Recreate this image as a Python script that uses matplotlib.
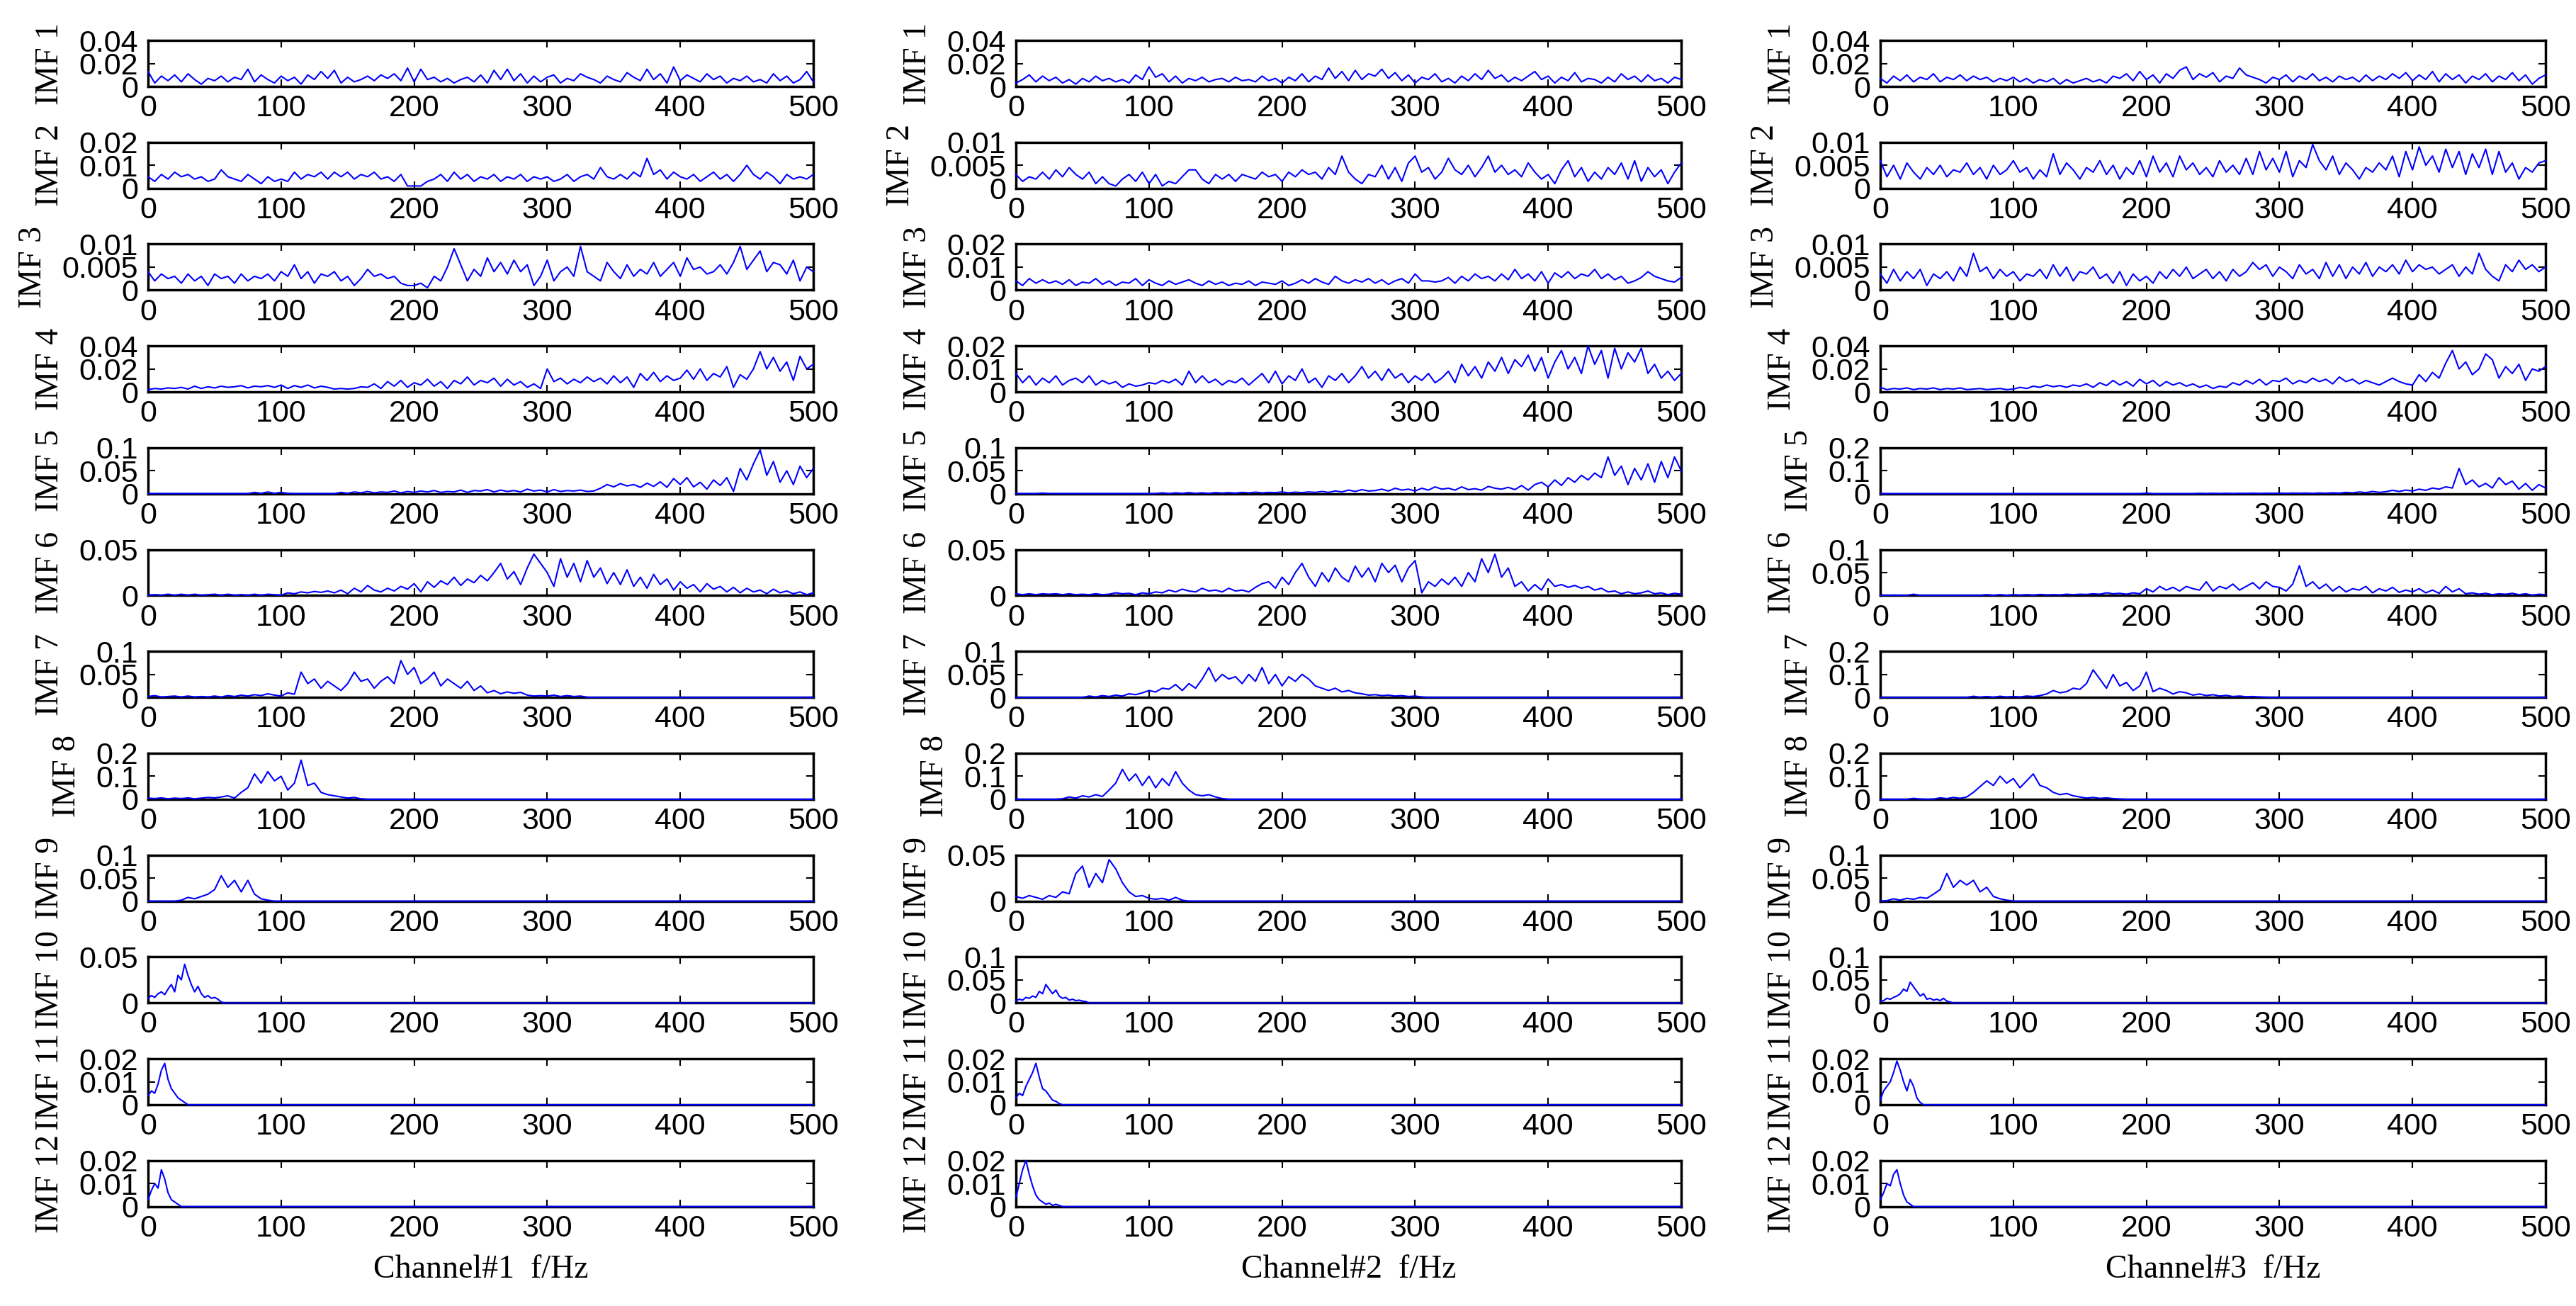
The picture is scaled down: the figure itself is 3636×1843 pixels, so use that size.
import matplotlib
matplotlib.use('Agg')
import matplotlib.pyplot as plt
import numpy as np

# MATLAB-like look: sans ticks, serif labels
plt.rcParams['font.family'] = ['Liberation Sans Narrow', 'Liberation Sans', 'DejaVu Sans']

# ============ data (amplitude in units of 1e-4) ============
# rows 1-9 sampled every 5 Hz, rows 10-12 every 2.5 Hz;
# past the end of a list the trace sits on zero up to 500 Hz

# ---- Channel #1 ----
c1_imf1 = [130, 30, 90, 50, 100, 40, 110, 60, 20, 70,
           50, 90, 40, 80, 60, 150, 40, 100, 60, 30,
           90, 50, 80, 20, 100, 60, 130, 70, 140, 30,
           80, 40, 60, 90, 50, 100, 70, 110, 50, 160,
           40, 150, 60, 80, 40, 70, 30, 60, 80, 40,
           100, 30, 140, 60, 150, 50, 110, 30, 90, 40,
           80, 100, 30, 70, 50, 110, 80, 60, 30, 90,
           60, 40, 120, 80, 50, 150, 60, 110, 30, 170,
           50, 100, 70, 40, 110, 60, 90, 30, 70, 50,
           90, 40, 60, 30, 110, 50, 90, 30, 60, 130,
           40]
c1_imf2 = [50, 30, 60, 40, 70, 50, 60, 40, 50, 30,
           40, 80, 50, 40, 30, 60, 40, 20, 50, 30,
           40, 30, 70, 40, 60, 50, 70, 40, 70, 50,
           70, 40, 60, 50, 70, 40, 50, 30, 60, 10,
           10, 10, 30, 40, 60, 30, 70, 40, 60, 30,
           50, 40, 60, 30, 50, 40, 60, 30, 50, 40,
           50, 30, 40, 60, 30, 50, 60, 40, 90, 50,
           40, 60, 40, 70, 50, 130, 60, 80, 40, 70,
           50, 40, 60, 30, 50, 70, 40, 60, 30, 60,
           100, 60, 40, 70, 50, 20, 60, 40, 50, 40,
           60]
c1_imf3 = [40, 20, 35, 25, 30, 15, 35, 20, 30, 10,
           35, 25, 30, 15, 35, 20, 30, 25, 35, 20,
           40, 30, 55, 25, 40, 15, 35, 30, 40, 20,
           30, 10, 25, 45, 30, 35, 25, 30, 15, 10,
           10, 15, 5, 30, 20, 50, 90, 55, 20, 45,
           30, 70, 40, 60, 35, 65, 40, 55, 10, 30,
           65, 20, 40, 50, 30, 95, 40, 30, 20, 60,
           40, 25, 55, 30, 45, 35, 60, 30, 45, 60,
           30, 70, 45, 50, 35, 40, 55, 35, 60, 95,
           45, 65, 85, 40, 60, 55, 35, 65, 20, 50,
           40]
c1_imf4 = [20, 30, 25, 35, 30, 40, 25, 50, 30, 45,
           35, 50, 40, 45, 55, 35, 50, 45, 55, 40,
           60, 30, 55, 40, 60, 35, 50, 40, 25, 30,
           25, 30, 45, 40, 70, 30, 90, 50, 100, 40,
           80, 60, 110, 50, 90, 30, 100, 70, 130, 60,
           100, 80, 120, 50, 110, 60, 90, 40, 70, 30,
           200, 90, 120, 70, 110, 80, 130, 90, 120, 70,
           140, 80, 130, 40, 160, 100, 170, 90, 140, 100,
           120, 190, 110, 200, 100, 160, 130, 220, 40, 150,
           110, 200, 350, 200, 300, 180, 260, 100, 310, 200,
           240]
c1_imf5 = [5, 5, 5, 5, 5, 5, 5, 5, 5, 5,
           5, 5, 5, 5, 5, 5, 30, 10, 40, 10,
           30, 10, 5, 5, 5, 5, 5, 5, 5, 30,
           10, 40, 20, 50, 20, 40, 30, 60, 20, 50,
           30, 60, 40, 70, 30, 50, 40, 80, 30, 70,
           60, 90, 40, 80, 50, 70, 40, 100, 60, 80,
           40, 90, 50, 70, 60, 80, 50, 60, 120, 200,
           150, 220, 170, 200, 140, 230, 160, 260, 140, 330,
           200, 350, 150, 250, 100, 300, 180, 350, 50, 550,
           300, 650, 950, 400, 700, 250, 500, 200, 600, 350,
           550]
c1_imf6 = [5, 10, 5, 15, 5, 15, 5, 15, 5, 10,
           15, 5, 15, 5, 10, 5, 15, 5, 15, 10,
           5, 30, 20, 40, 30, 45, 35, 50, 30, 60,
           20, 80, 40, 110, 60, 40, 80, 50, 100, 70,
           130, 40, 150, 90, 160, 120, 200, 110, 180, 140,
           220, 160, 250, 350, 180, 260, 120, 300, 450, 350,
           250, 100, 400, 200, 350, 150, 380, 200, 300, 130,
           250, 120, 280, 100, 200, 80, 230, 120, 180, 60,
           150, 80, 120, 40, 130, 70, 100, 40, 90, 30,
           80, 40, 60, 20, 70, 30, 50, 20, 40, 10,
           30]
c1_imf7 = [20, 40, 10, 20, 30, 10, 30, 10, 20, 10,
           30, 10, 40, 20, 50, 30, 60, 40, 80, 50,
           30, 100, 70, 550, 300, 400, 200, 350, 250, 150,
           300, 550, 350, 400, 200, 350, 450, 300, 800, 500,
           650, 300, 400, 550, 250, 400, 300, 200, 350, 150,
           250, 100, 150, 80, 120, 90, 110, 50, 30, 40,
           30, 50, 20, 40, 20, 30, 5]
c1_imf8 = [50, 30, 60, 20, 50, 30, 60, 20, 50, 80,
           60, 100, 150, 50, 300, 500, 1100, 700, 1200, 800,
           1000, 400, 700, 1700, 600, 700, 300, 200, 150, 100,
           50, 80, 20]
c1_imf9 = [0, 0, 0, 0, 0, 20, 80, 50, 100, 150,
           250, 550, 300, 450, 200, 450, 150, 50, 20]
c1_imf10 = [50, 80, 60, 100, 120, 90, 150, 200, 120, 300,
            250, 420, 300, 200, 120, 180, 100, 60, 80, 50,
            60, 40, 10]
c1_imf11 = [40, 60, 50, 90, 150, 180, 110, 70, 50, 30, 20, 10]
c1_imf12 = [30, 70, 100, 80, 160, 120, 60, 30, 20, 10]

# ---- Channel #2 ----
c2_imf1 = [30, 60, 100, 40, 90, 50, 80, 30, 60, 20,
           70, 40, 90, 50, 70, 40, 60, 30, 100, 60,
           170, 80, 110, 40, 90, 30, 70, 50, 80, 40,
           60, 70, 40, 80, 50, 60, 40, 90, 50, 70,
           30, 80, 50, 110, 40, 90, 60, 160, 70, 130,
           50, 140, 60, 110, 90, 150, 70, 120, 50, 100,
           30, 80, 60, 110, 40, 70, 30, 90, 50, 110,
           60, 140, 70, 100, 40, 80, 50, 90, 130, 60,
           90, 30, 80, 50, 120, 40, 70, 60, 30, 80,
           40, 110, 60, 90, 40, 100, 50, 70, 30, 80,
           60]
c2_imf2 = [30, 15, 25, 20, 35, 20, 40, 25, 45, 30,
           20, 35, 10, 25, 10, 5, 20, 30, 15, 35,
           10, 30, 5, 15, 10, 25, 40, 40, 20, 10,
           30, 20, 30, 15, 30, 25, 20, 35, 25, 30,
           15, 35, 25, 40, 30, 35, 20, 45, 30, 70,
           35, 20, 10, 30, 25, 50, 20, 45, 15, 55,
           70, 35, 45, 20, 35, 65, 40, 30, 50, 25,
           45, 70, 35, 50, 30, 40, 25, 55, 35, 20,
           30, 10, 40, 60, 25, 45, 15, 35, 20, 45,
           30, 55, 20, 60, 15, 45, 25, 40, 10, 35,
           55]
c2_imf3 = [40, 20, 50, 30, 45, 30, 40, 25, 45, 20,
           35, 30, 50, 25, 40, 20, 35, 30, 50, 20,
           45, 30, 20, 40, 25, 35, 45, 30, 20, 40,
           25, 35, 20, 30, 25, 40, 20, 35, 30, 25,
           40, 20, 30, 45, 30, 50, 35, 25, 60, 40,
           30, 45, 35, 50, 30, 45, 25, 40, 50, 30,
           70, 40, 40, 35, 40, 55, 30, 60, 40, 70,
           50, 60, 40, 70, 45, 90, 50, 70, 40, 80,
           30, 75, 55, 80, 50, 70, 60, 90, 50, 70,
           45, 60, 30, 40, 55, 80, 60, 50, 40, 35,
           55]
c2_imf4 = [80, 40, 70, 30, 60, 40, 70, 30, 50, 60,
           40, 70, 30, 50, 35, 45, 20, 35, 25, 30,
           40, 35, 50, 40, 55, 30, 90, 40, 70, 40,
           55, 30, 50, 40, 60, 30, 55, 80, 40, 90,
           35, 70, 50, 100, 40, 60, 20, 70, 50, 80,
           40, 70, 110, 60, 90, 50, 100, 60, 80, 40,
           70, 50, 80, 40, 60, 90, 40, 120, 70, 110,
           60, 130, 90, 150, 80, 140, 110, 160, 90, 150,
           60, 130, 180, 100, 150, 80, 200, 120, 180, 60,
           190, 100, 170, 130, 190, 80, 120, 60, 90, 50,
           80]
c2_imf5 = [5, 5, 5, 5, 15, 5, 5, 5, 5, 5,
           5, 5, 5, 5, 5, 5, 5, 5, 5, 5,
           5, 5, 20, 5, 20, 10, 25, 10, 20, 10,
           25, 15, 25, 15, 30, 20, 35, 20, 30, 25,
           40, 20, 35, 25, 40, 30, 50, 30, 60, 40,
           80, 50, 90, 60, 70, 100, 60, 120, 80, 100,
           60, 120, 80, 150, 100, 120, 80, 150, 90, 110,
           80, 160, 120, 100, 140, 90, 180, 80, 200, 250,
           150, 300, 180, 350, 250, 400, 300, 450, 350, 800,
           400, 600, 200, 550, 300, 650, 250, 700, 350, 800,
           500]
c2_imf6 = [20, 10, 20, 10, 20, 15, 20, 10, 20, 10,
           15, 10, 20, 10, 15, 30, 20, 25, 10, 30,
           20, 40, 30, 60, 40, 70, 50, 40, 80, 50,
           60, 40, 80, 50, 60, 40, 90, 130, 150, 80,
           200, 120, 250, 350, 200, 100, 250, 150, 300, 200,
           150, 320, 200, 300, 150, 350, 250, 330, 150, 300,
           380, 30, 150, 100, 180, 120, 200, 100, 250, 150,
           400, 250, 450, 200, 300, 100, 150, 50, 120, 60,
           180, 100, 120, 90, 110, 80, 100, 60, 80, 40,
           50, 20, 40, 20, 30, 50, 20, 30, 10, 25,
           15]
c2_imf7 = [0, 0, 0, 0, 0, 0, 0, 0, 0, 0,
           0, 30, 10, 40, 20, 50, 30, 80, 60, 100,
           150, 120, 200, 180, 280, 150, 300, 200, 400, 650,
           350, 500, 400, 450, 300, 500, 350, 650, 300, 500,
           250, 450, 350, 500, 400, 250, 200, 150, 200, 120,
           150, 100, 80, 50, 60, 40, 50, 30, 40, 20,
           30, 10]
c2_imf8 = [0, 0, 0, 0, 0, 0, 0, 20, 100, 50,
           150, 100, 200, 120, 400, 700, 1300, 800, 1100, 600,
           1000, 500, 900, 600, 1200, 700, 400, 200, 150, 200,
           100, 30]
c2_imf9 = [50, 30, 60, 40, 20, 60, 40, 100, 80, 300,
           380, 150, 300, 200, 450, 350, 200, 100, 50, 60,
           30, 20, 30, 10, 40, 10]
c2_imf10 = [50, 80, 60, 120, 100, 150, 120, 250, 200, 400,
            300, 200, 280, 150, 100, 120, 60, 80, 50, 60,
            40, 30]
c2_imf11 = [30, 50, 40, 80, 110, 140, 180, 120, 70, 60, 40, 20, 15, 5]
c2_imf12 = [40, 100, 160, 200, 140, 90, 50, 30, 20, 10, 15, 5, 10, 5]

# ---- Channel #3 ----
c3_imf1 = [70, 30, 90, 50, 100, 40, 80, 60, 110, 40,
           80, 60, 100, 50, 90, 60, 80, 40, 70, 50,
           80, 40, 70, 30, 60, 40, 70, 20, 60, 30,
           50, 70, 40, 60, 30, 90, 70, 110, 50, 130,
           60, 100, 30, 110, 70, 140, 170, 60, 110, 80,
           120, 40, 90, 70, 160, 100, 80, 60, 30, 80,
           60, 100, 40, 90, 60, 110, 50, 80, 40, 90,
           60, 80, 40, 100, 50, 90, 60, 110, 70, 120,
           50, 100, 60, 130, 40, 110, 60, 100, 30, 90,
           60, 110, 40, 90, 60, 120, 50, 100, 20, 70,
           100]
c3_imf2 = [60, 25, 50, 20, 55, 35, 20, 45, 30, 50,
           25, 40, 35, 55, 30, 45, 20, 50, 30, 40,
           60, 35, 45, 20, 40, 25, 75, 30, 55, 40,
           20, 45, 35, 60, 30, 50, 20, 45, 30, 60,
           25, 70, 35, 55, 25, 70, 40, 55, 30, 45,
           25, 60, 35, 50, 30, 65, 30, 80, 40, 65,
           35, 80, 25, 60, 45, 95, 60, 40, 70, 30,
           55, 40, 20, 45, 35, 55, 40, 70, 25, 80,
           40, 90, 50, 70, 35, 85, 45, 80, 30, 75,
           45, 85, 30, 80, 35, 55, 20, 45, 35, 55,
           60]
c3_imf3 = [35, 15, 45, 20, 40, 25, 45, 10, 35, 25,
           40, 20, 50, 30, 80, 40, 50, 25, 45, 30,
           40, 20, 35, 30, 45, 25, 55, 30, 50, 20,
           40, 35, 50, 25, 35, 15, 40, 10, 35, 20,
           30, 15, 40, 25, 45, 30, 50, 25, 35, 45,
           25, 40, 20, 45, 30, 40, 60, 45, 55, 30,
           50, 40, 25, 55, 35, 45, 25, 60, 30, 55,
           25, 50, 35, 60, 30, 50, 40, 55, 35, 65,
           40, 55, 45, 50, 35, 45, 55, 30, 50, 35,
           80, 45, 30, 20, 55, 40, 65, 45, 55, 40,
           50]
c3_imf4 = [40, 20, 30, 25, 35, 20, 30, 25, 35, 20,
           30, 25, 35, 20, 25, 30, 20, 25, 30, 20,
           25, 40, 30, 50, 40, 60, 45, 55, 40, 60,
           50, 70, 40, 80, 55, 100, 60, 90, 50, 110,
           70, 100, 50, 90, 60, 80, 50, 70, 40, 60,
           30, 50, 40, 80, 60, 100, 70, 110, 60, 100,
           90, 120, 70, 100, 80, 120, 90, 110, 70, 130,
           90, 110, 70, 100, 80, 60, 90, 120, 90, 70,
           60, 150, 90, 170, 120, 250, 360, 200, 260, 150,
           200, 330, 280, 120, 220, 160, 240, 100, 200, 180,
           220]
c3_imf5 = [5, 5, 5, 5, 5, 5, 5, 5, 5, 5,
           5, 5, 5, 5, 5, 5, 5, 5, 5, 5,
           5, 5, 5, 5, 5, 5, 5, 5, 5, 5,
           5, 5, 5, 5, 5, 5, 5, 5, 5, 5,
           30, 5, 5, 5, 5, 5, 5, 5, 20, 10,
           20, 10, 20, 10, 20, 15, 25, 15, 25, 20,
           30, 20, 30, 25, 30, 20, 35, 25, 40, 30,
           60, 40, 80, 50, 100, 60, 90, 150, 100, 160,
           120, 200, 150, 250, 200, 300, 250, 1100, 400, 600,
           300, 450, 250, 700, 400, 550, 200, 450, 150, 400,
           250]
c3_imf6 = [10, 5, 10, 5, 5, 30, 5, 5, 5, 5,
           5, 5, 5, 5, 5, 5, 20, 5, 20, 5,
           20, 10, 20, 10, 25, 15, 20, 15, 30, 20,
           30, 25, 40, 30, 60, 40, 50, 30, 60, 40,
           150, 80, 200, 120, 180, 100, 200, 150, 120, 300,
           100, 200, 150, 250, 120, 200, 280, 150, 300, 200,
           180, 100, 250, 650, 200, 300, 150, 250, 100, 200,
           80, 150, 120, 200, 60, 150, 100, 180, 70, 120,
           80, 150, 60, 120, 50, 200, 80, 150, 40, 60,
           30, 50, 20, 40, 30, 50, 20, 40, 10, 30,
           20]
c3_imf7 = [0, 0, 0, 0, 0, 0, 0, 0, 0, 0,
           0, 0, 0, 0, 50, 10, 40, 10, 50, 20,
           40, 20, 60, 40, 80, 150, 300, 200, 250, 400,
           350, 600, 1200, 800, 400, 1000, 500, 650, 300, 500,
           1100, 250, 400, 300, 150, 250, 200, 100, 150, 80,
           120, 60, 90, 40, 60, 30, 40, 20, 10]
c3_imf8 = [0, 0, 0, 0, 0, 40, 10, 0, 10, 60,
           30, 80, 40, 100, 300, 550, 800, 600, 1000, 700,
           900, 500, 800, 1100, 600, 500, 300, 200, 250, 150,
           100, 50, 80, 40, 60, 30, 10]
c3_imf9 = [0, 10, 50, 20, 60, 40, 80, 60, 150, 250,
           600, 300, 450, 350, 450, 200, 300, 100, 50, 20]
c3_imf10 = [30, 50, 100, 80, 120, 150, 200, 300, 250, 450,
            350, 250, 150, 200, 80, 100, 60, 80, 50, 100,
            40, 20]
c3_imf11 = [20, 60, 80, 100, 140, 190, 150, 100, 60, 110, 80, 30, 10]
c3_imf12 = [30, 60, 100, 90, 140, 160, 100, 50, 20, 10]

channels = [
    [c1_imf1, c1_imf2, c1_imf3, c1_imf4, c1_imf5, c1_imf6,
     c1_imf7, c1_imf8, c1_imf9, c1_imf10, c1_imf11, c1_imf12],
    [c2_imf1, c2_imf2, c2_imf3, c2_imf4, c2_imf5, c2_imf6,
     c2_imf7, c2_imf8, c2_imf9, c2_imf10, c2_imf11, c2_imf12],
    [c3_imf1, c3_imf2, c3_imf3, c3_imf4, c3_imf5, c3_imf6,
     c3_imf7, c3_imf8, c3_imf9, c3_imf10, c3_imf11, c3_imf12],
]
channel_names = ['Channel#1  f/Hz', 'Channel#2  f/Hz', 'Channel#3  f/Hz']
imf_labels = ['IMF %d' % (i + 1) for i in range(12)]
row_step = [5, 5, 5, 5, 5, 5, 5, 5, 5, 2.5, 2.5, 2.5]   # Hz between samples

# y-axis top of each panel
y_max = [
    [0.04, 0.02, 0.01, 0.04, 0.1, 0.05, 0.1, 0.2, 0.1, 0.05, 0.02, 0.02],
    [0.04, 0.01, 0.02, 0.02, 0.1, 0.05, 0.1, 0.2, 0.05, 0.1, 0.02, 0.02],
    [0.04, 0.01, 0.01, 0.04, 0.2, 0.1, 0.2, 0.2, 0.1, 0.1, 0.02, 0.02],
]


def spectrum(vals, step):
    v = np.asarray(vals, dtype=float) * 1e-4
    f = np.arange(len(v)) * step
    # the trace stays on zero after the listed band
    tail = np.arange(f[-1] + step, 500 + step / 2, step)
    f = np.concatenate([f, tail])
    v = np.concatenate([v, np.zeros(len(tail))])
    keep = f <= 500
    return f[keep], v[keep]


# ============ layout (pixels of the 3636 x 1843 canvas) ============
W, H = 3636, 1843
col_left = [209, 1434, 2654]
ax_w, ax_h = 939, 65
row_top0, row_pitch = 57, 143.7

fig = plt.figure(figsize=(W / 100, H / 100), dpi=100)

for c in range(3):
    for r in range(12):
        top = row_top0 + r * row_pitch
        ax = fig.add_axes([col_left[c] / W, 1 - (top + ax_h) / H, ax_w / W, ax_h / H])
        f, v = spectrum(channels[c][r], row_step[r])
        ax.plot(f, v, color='#0000ff', lw=1.5, clip_on=False, zorder=3)

        ym = y_max[c][r]
        ax.set_xlim(0, 500)
        ax.set_ylim(0, ym)
        ax.set_xticks(range(0, 501, 100))
        yt = [0, ym] if ym == 0.05 else [0, ym / 2, ym]
        ax.set_yticks(yt)
        ax.set_yticklabels(['%g' % t for t in yt])

        ax.tick_params(direction='in', top=True, right=True, length=7, width=1.5,
                       labelsize=31, colors='black')
        ax.tick_params(axis='x', pad=8)
        ax.tick_params(axis='y', pad=10)
        for s in ax.spines.values():
            s.set_linewidth(2.5)
        ax.set_ylabel(imf_labels[r], family=['Liberation Serif', 'DejaVu Serif'],
                      fontsize=33, labelpad=14)
        if r == 11:
            ax.set_xlabel(channel_names[c], family=['Liberation Serif', 'DejaVu Serif'],
                          fontsize=33, labelpad=12)

fig.savefig('out.png', dpi=100)
